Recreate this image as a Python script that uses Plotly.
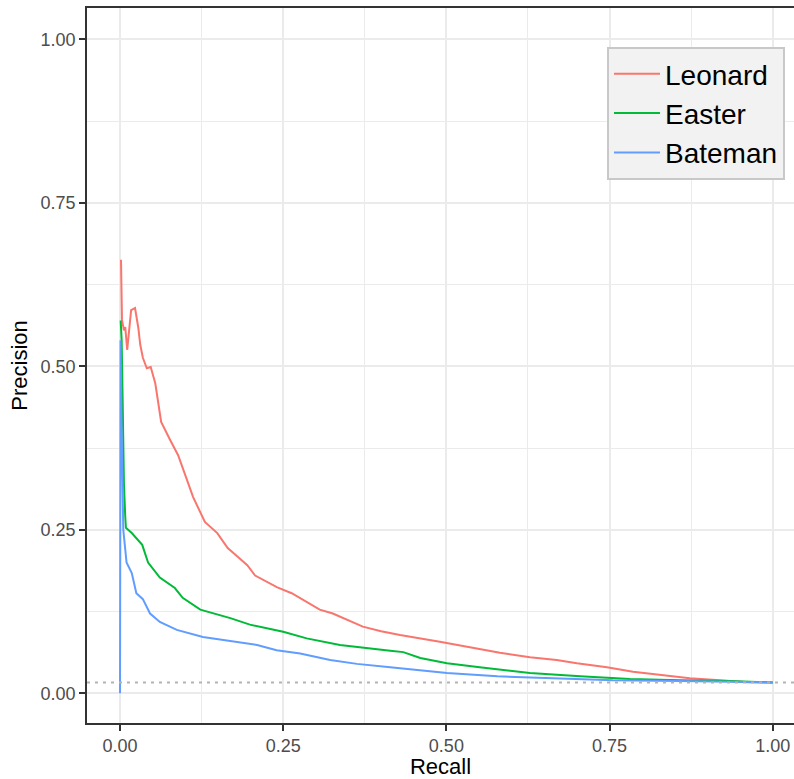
import plotly.graph_objects as go

# ---- data ----
leonard_recall = [0.0015, 0.002, 0.003, 0.006, 0.008, 0.011, 0.017, 0.023, 0.028, 0.031, 0.035,
                  0.041, 0.047, 0.054, 0.063, 0.077, 0.089, 0.112, 0.130, 0.149, 0.165, 0.179,
                  0.195, 0.207, 0.241, 0.263, 0.280, 0.306, 0.326, 0.372, 0.400, 0.429, 0.490,
                  0.536, 0.582, 0.628, 0.669, 0.700, 0.746, 0.786, 0.827, 0.873, 0.919, 0.961, 1.0]
leonard_precision = [0.663, 0.60, 0.571, 0.555, 0.56, 0.525, 0.586, 0.589, 0.559, 0.533, 0.513,
                     0.497, 0.499, 0.474, 0.415, 0.387, 0.364, 0.300, 0.262, 0.245, 0.222, 0.210,
                     0.196, 0.180, 0.162, 0.153, 0.143, 0.128, 0.122, 0.102, 0.095, 0.089, 0.079,
                     0.070, 0.062, 0.055, 0.051, 0.046, 0.040, 0.033, 0.028, 0.023, 0.020, 0.017, 0.0165]

easter_recall = [0.001, 0.0025, 0.004, 0.006, 0.008, 0.009, 0.018, 0.034, 0.043, 0.061, 0.084,
                 0.096, 0.123, 0.169, 0.199, 0.250, 0.286, 0.337, 0.414, 0.434, 0.460, 0.501,
                 0.551, 0.628, 0.705, 0.781, 0.858, 0.934, 1.0]
easter_precision = [0.57, 0.54, 0.45, 0.32, 0.27, 0.253, 0.245, 0.227, 0.200, 0.177, 0.161,
                    0.146, 0.128, 0.115, 0.105, 0.094, 0.084, 0.074, 0.065, 0.063, 0.054, 0.046,
                    0.040, 0.031, 0.026, 0.022, 0.020, 0.019, 0.0165]

bateman_recall = [0.0, 0.0008, 0.002, 0.004, 0.005, 0.008, 0.010, 0.018, 0.025, 0.035, 0.046,
                  0.061, 0.087, 0.127, 0.188, 0.210, 0.240, 0.276, 0.322, 0.363, 0.414, 0.449,
                  0.501, 0.578, 0.654, 0.755, 0.858, 1.0]
bateman_precision = [0.0, 0.54, 0.43, 0.30, 0.25, 0.22, 0.20, 0.184, 0.153, 0.144, 0.122,
                     0.109, 0.097, 0.086, 0.078, 0.074, 0.066, 0.061, 0.051, 0.045, 0.040, 0.036,
                     0.031, 0.026, 0.023, 0.020, 0.019, 0.0165]

baseline_precision = 0.0165

series_names = ["Leonard", "Easter", "Bateman"]
series_colors = ["#F8766D", "#00BA38", "#619CFF"]
tick_vals = [0.0, 0.25, 0.5, 0.75, 1.0]
tick_text = ["0.00", "0.25", "0.50", "0.75", "1.00"]

FONT = "Liberation Sans, Arial, Helvetica, sans-serif"

fig = go.Figure()
for name, color, xs, ys in zip(series_names, series_colors,
                               [leonard_recall, easter_recall, bateman_recall],
                               [leonard_precision, easter_precision, bateman_precision]):
    fig.add_trace(go.Scatter(x=xs, y=ys, mode="lines", name=name, legendgroup=name,
                             line=dict(color=color, width=2)))

fig.add_shape(type="line", xref="paper", x0=0, x1=1, yref="y",
              y0=baseline_precision, y1=baseline_precision,
              line=dict(color="#b3b3b3", width=2, dash="3px,5px"), layer="above")

axis_common = dict(
    tickvals=tick_vals, ticktext=tick_text,
    showgrid=True, gridcolor="#ebebeb", gridwidth=2,
    minor=dict(showgrid=True, gridcolor="#ebebeb", gridwidth=1, dtick=0.125, tick0=0.125),
    zeroline=False,
    showline=True, linecolor="#333333", linewidth=1.5,
    ticks="outside", ticklen=6, tickwidth=1.5, tickcolor="#333333",
    tickfont=dict(family=FONT, size=18, color="#4d4d4d"),
)

fig.update_xaxes(range=[-0.0506, 1.0326], mirror=True,
                 title=dict(text="Recall", font=dict(family=FONT, size=22, color="#000000"),
                            standoff=6),
                 **axis_common)
fig.update_yaxes(range=[-0.0454, 1.0479], mirror=False,
                 title=dict(text="Precision", font=dict(family=FONT, size=22, color="#000000"),
                            standoff=7),
                 **axis_common)

fig.update_layout(
    width=794, height=779,
    margin=dict(l=87, r=0, t=8, b=56),
    paper_bgcolor="white", plot_bgcolor="white",
    font=dict(family=FONT),
    showlegend=True,
    legend=dict(x=0.9873, xanchor="right", y=0.9455, yanchor="top",
                bgcolor="#f2f2f2", bordercolor="#c8c8c8", borderwidth=2,
                font=dict(family=FONT, size=28, color="#000000"),
                itemwidth=46,
                traceorder="grouped", tracegroupgap=0),
)

fig.write_html("out.html", config={"displayModeBar": False},
               post_script="document.body.style.margin='0px';")
